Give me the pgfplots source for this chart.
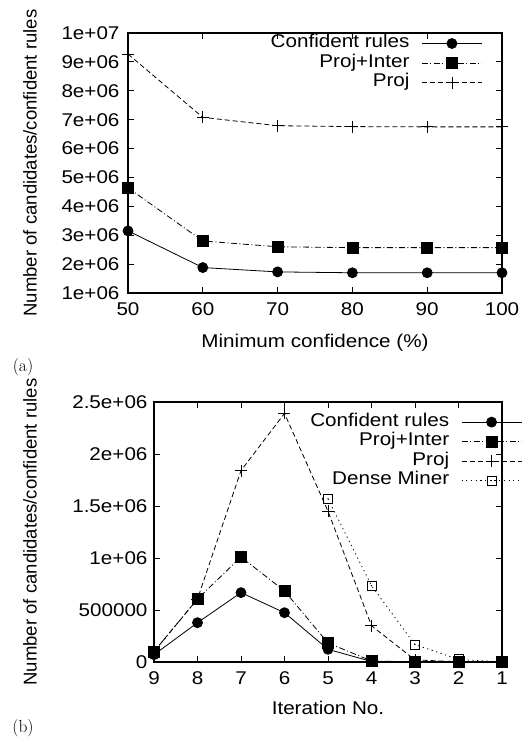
\documentclass[border=0pt]{standalone}
\usepackage{pgfplots}
\pgfplotsset{compat=1.18}
\usepackage{fontspec}
\newfontfamily\arial{Liberation Sans}
\newfontfamily\arialw{Liberation Sans}[FakeStretch=1.12]
\newcommand{\af}{\arialw\fontsize{18.5}{20}\selectfont}
\newcommand{\afr}{\arial\fontsize{18.6}{20}\selectfont}
\pgfdeclareplotmark{sqdot}{%
  \pgfpathrectangle{\pgfpoint{-\pgfplotmarksize}{-\pgfplotmarksize}}{\pgfpoint{2\pgfplotmarksize}{2\pgfplotmarksize}}%
  \pgfusepathqstroke
  \pgfpathcircle{\pgfpointorigin}{0.7bp}\pgfusepathqfill}
\begin{document}
\begin{tikzpicture}
\useasboundingbox (0bp,0bp) rectangle (524bp,749bp);
\pgfplotsset{
  every axis/.append style={
    scale only axis,
    axis line style={line width=1.1bp},
    tick style={line width=0.8bp, black},
    major tick length=6bp,
    tick align=inside,
    font=\af,
    /pgf/number format/assume math mode=true,
    tick label style={font=\af},
    xticklabel style={yshift=-6bp},
    label style={font=\af},
    ylabel style={font=\afr},
    legend style={font=\af, draw=none, fill=none, inner sep=0pt, row sep=1.5bp,
      /tikz/column sep=12bp,
      nodes={inner sep=0pt, text height=13bp, text depth=5bp}},
    legend cell align=right,
    legend plot pos=right,
    legend image code/.code={\draw[mark repeat=2,mark phase=2] plot coordinates {(0bp,0bp) (30bp,0bp) (60bp,0bp)};},
    scaled y ticks=false,
    every axis plot/.append style={line width=0.8bp, black},
  },
  conf/.style={solid, mark=*, mark size=5bp, mark options={solid}},
  pint/.style={dash pattern=on 6bp off 2.5bp on 1bp off 2.5bp, mark=square*, mark size=5.5bp, mark options={solid}},
  proj/.style={dash pattern=on 5bp off 3bp, mark=+, mark size=6bp, mark options={solid}},
  dense/.style={dash pattern=on 1.2bp off 3.5bp, mark=sqdot, mark size=4.5bp, mark options={solid}},
}
% ---------------- (a) ----------------
\begin{axis}[
  at={(128bp,456bp)}, anchor=south west,
  width=374bp, height=260bp,
  xmin=50, xmax=100, ymin=1e6, ymax=1e7,
  xtick={50,60,70,80,90,100},
  ytick={1e6,2e6,3e6,4e6,5e6,6e6,7e6,8e6,9e6,1e7},
  yticklabels={1e+06,2e+06,3e+06,4e+06,5e+06,6e+06,7e+06,8e+06,9e+06,1e+07},
  yticklabel style={xshift=-5bp},
  xlabel={Minimum confidence (\%)},
  ylabel={Number of candidates/confident rules},
  xlabel style={at={(axis description cs:0.5,-0.19)}, anchor=center},
  ylabel style={at={(axis description cs:-0.262,0.5)}, anchor=center},
  legend style={at={(0.948,0.995)}, anchor=north east},
]
\addplot[conf] coordinates {(50,3.15e6) (60,1.88e6) (70,1.73e6) (80,1.70e6) (90,1.70e6) (100,1.70e6)};
\addlegendentry{Confident rules}
\addplot[pint] coordinates {(50,4.64e6) (60,2.80e6) (70,2.60e6) (80,2.57e6) (90,2.57e6) (100,2.57e6)};
\addlegendentry{Proj+Inter}
\addplot[proj] coordinates {(50,9.27e6) (60,7.08e6) (70,6.79e6) (80,6.76e6) (90,6.75e6) (100,6.75e6)};
\addlegendentry{Proj}
\end{axis}
% ---------------- (b) ----------------
\begin{axis}[
  at={(154bp,87bp)}, anchor=south west,
  width=348bp, height=260bp,
  x dir=reverse,
  xmin=1, xmax=9, ymin=0, ymax=2.5e6,
  xtick={1,2,3,4,5,6,7,8,9},
  ytick={0,5e5,1e6,1.5e6,2e6,2.5e6},
  yticklabels={0,500000,1e+06,1.5e+06,2e+06,2.5e+06},
  yticklabel style={xshift=-3bp},
  xlabel={Iteration No.},
  ylabel={Number of candidates/confident rules},
  xlabel style={at={(axis description cs:0.5,-0.178)}, anchor=center},
  ylabel style={at={(axis description cs:-0.356,0.5)}, anchor=center},
  legend style={at={(1.058,0.958)}, anchor=north east},
]
\addplot[conf] coordinates {(9,70000) (8,378000) (7,667000) (6,474000) (5,122000) (4,5000) (3,1000) (2,500) (1,100)};
\addlegendentry{Confident rules}
\addplot[pint] coordinates {(9,100000) (8,606000) (7,1010000) (6,683000) (5,183000) (4,10000) (3,2000) (2,1000) (1,200)};
\addlegendentry{Proj+Inter}
\addplot[proj] coordinates {(9,100000) (8,606000) (7,1840000) (6,2390000) (5,1450000) (4,349000) (3,20000) (2,3000) (1,300)};
\addlegendentry{Proj}
\addplot[dense] coordinates {(5,1570000) (4,734000) (3,167000) (2,25000) (1,1000)};
\addlegendentry{Dense Miner}
\end{axis}
\node[font=\fontsize{17.5}{19}\selectfont] at (23bp,382bp) {(a)};
\node[font=\fontsize{17.5}{19}\selectfont] at (23bp,21bp) {(b)};
\end{tikzpicture}
\end{document}
